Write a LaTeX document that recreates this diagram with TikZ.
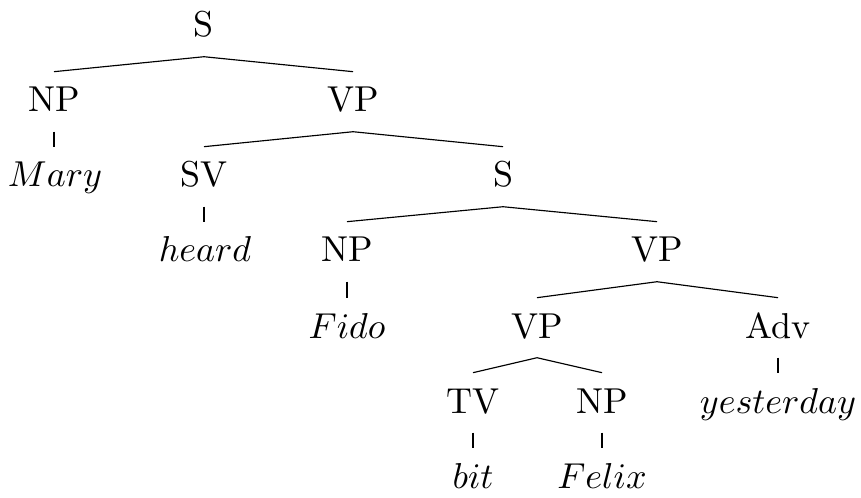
\documentclass[tikz,border=0pt]{standalone}
\begin{document}
\begin{tikzpicture}[x=0.2778pt,y=-0.2778pt,
  lbl/.style={anchor=base,inner xsep=1pt,inner ysep=4.17pt,
    text height=6.83pt,text depth=1.11pt,
    font=\fontsize{10pt}{12pt}\selectfont},
  edge/.style={line width=0.32pt}]
\useasboundingbox (0,0) rectangle (861,497);

% level 0
\node[lbl] (s0) at (204,37) {S};
% level 1
\node[lbl] (np1) at (54,112) {NP};
\node[lbl] (vp1) at (353,112) {VP};
% level 2
\node[lbl] (mary) at (55,187) {$Mary$};
\node[lbl] (sv) at (204,187) {SV};
\node[lbl] (s2) at (503,187) {S};
% level 3
\node[lbl] (heard) at (205,262) {$heard$};
\node[lbl] (np3) at (347,262) {NP};
\node[lbl] (vp3) at (657,262) {VP};
% level 4
\node[lbl] (fido) at (347,338) {$Fido$};
\node[lbl] (vp4) at (537,338) {VP};
\node[lbl] (adv) at (778,338) {Adv};
% level 5
\node[lbl] (tv) at (473,413) {TV};
\node[lbl] (np5) at (602,413) {NP};
\node[lbl] (yest) at (778,413) {$yesterday$};
% level 6
\node[lbl] (bit) at (473,488) {$bit$};
\node[lbl] (felix) at (602,488) {$Felix$};

% branches
\draw[edge] (np1.north) -- (s0.south) -- (vp1.north);
\draw[edge] (np1.south) -- (np1.south |- mary.north);
\draw[edge] (sv.north) -- (vp1.south) -- (s2.north);
\draw[edge] (sv.south) -- (sv.south |- heard.north);
\draw[edge] (np3.north) -- (s2.south) -- (vp3.north);
\draw[edge] (np3.south) -- (fido.north);
\draw[edge] (vp4.north) -- (vp3.south) -- (adv.north);
\draw[edge] (tv.north) -- (vp4.south) -- (np5.north);
\draw[edge] (adv.south) -- (yest.north);
\draw[edge] (tv.south) -- (bit.north);
\draw[edge] (np5.south) -- (felix.north);
\end{tikzpicture}
\end{document}
